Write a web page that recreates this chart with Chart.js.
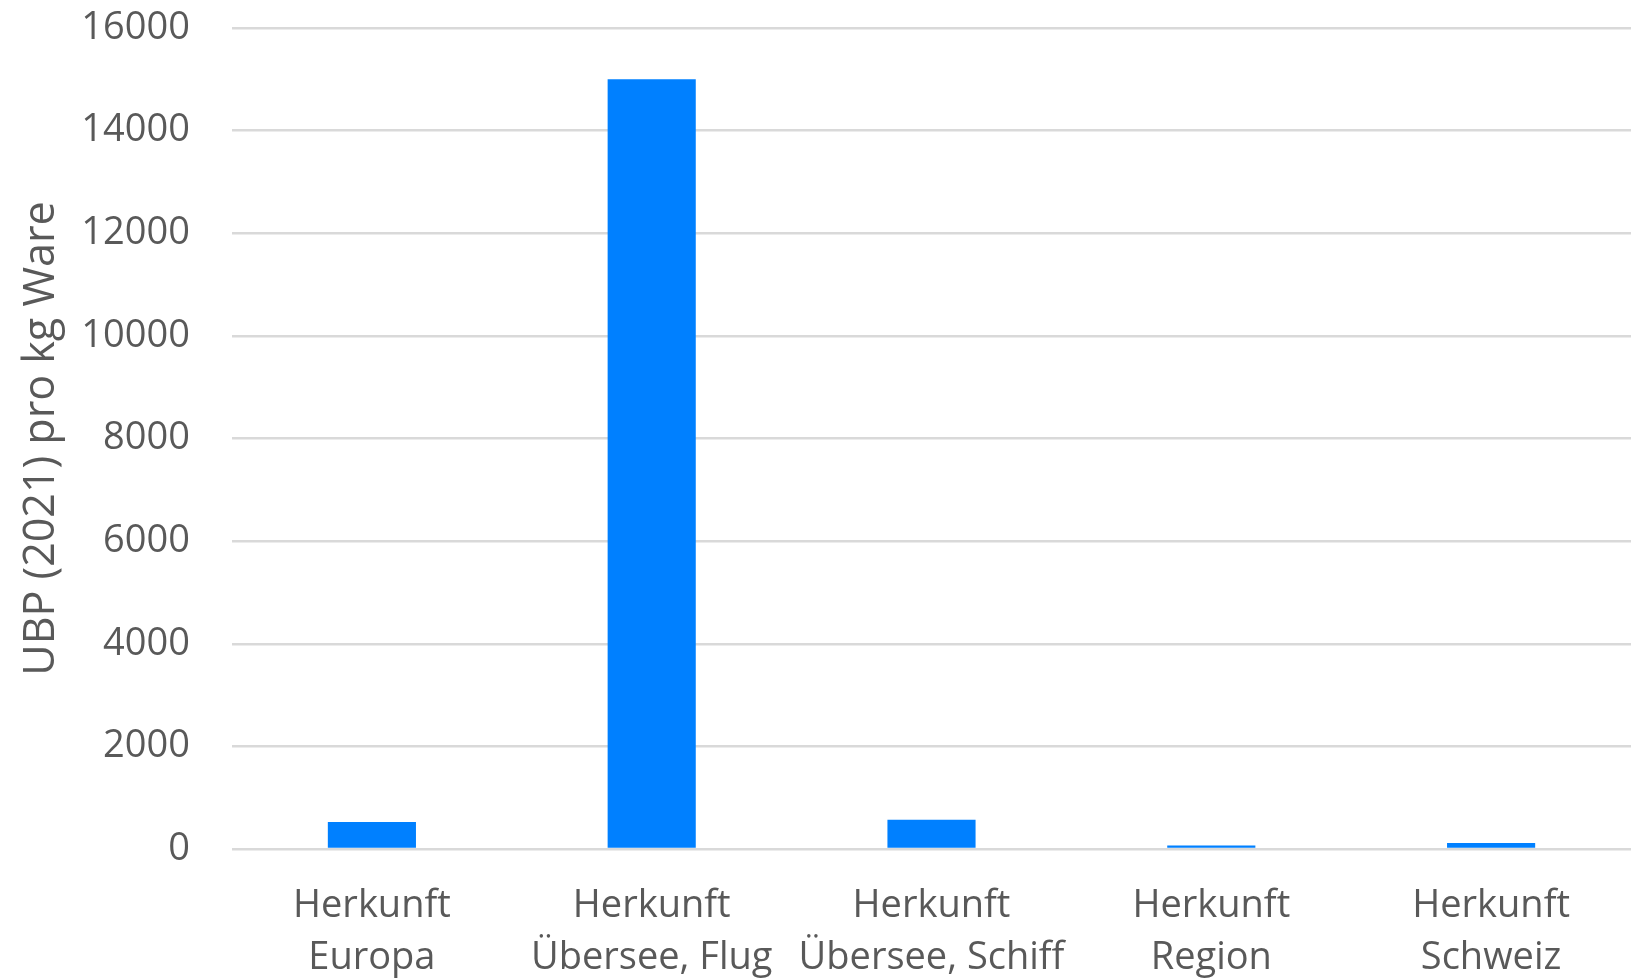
<!DOCTYPE html>
<html>
<head>
<meta charset="utf-8">
<title>UBP pro kg Ware nach Herkunft</title>
<script src="https://cdn.jsdelivr.net/npm/chart.js@4/dist/chart.umd.min.js"></script>
<style>
  html, body { margin: 0; padding: 0; background: #ffffff; }
  #wrap { width: 1631px; height: 979px; }
</style>
</head>
<body>
<div id="wrap"><canvas id="c" width="1631" height="979"></canvas></div>
<script>
// Categories (two-line labels) and values, UBP (2021) per kg of goods
const categories = [
  ["Herkunft", "Europa"],
  ["Herkunft", "Übersee, Flug"],
  ["Herkunft", "Übersee, Schiff"],
  ["Herkunft", "Region"],
  ["Herkunft", "Schweiz"]
];
const ubpValues = [525, 15000, 570, 70, 115];
const yTicks = [0, 2000, 4000, 6000, 8000, 10000, 12000, 14000, 16000];
const yTitle = "UBP (2021) pro kg Ware";

const textColor = "#595959";
const gridColor = "#d9d9d9";
const barColor = "#0080ff";
const fontFamily = "'Open Sans', 'Noto Sans', sans-serif";

new Chart(document.getElementById("c"), {
  type: "bar",
  data: {
    labels: categories,
    datasets: [{
      data: ubpValues,
      backgroundColor: barColor,
      borderWidth: 0,
      categoryPercentage: 1.0,
      barPercentage: 0.315
    }]
  },
  options: {
    responsive: false,
    animation: false,
    devicePixelRatio: 1,
    layout: { padding: { top: 28, right: 0, bottom: 0, left: 0 } },
    plugins: {
      legend: { display: false },
      tooltip: { enabled: false }
    },
    scales: {
      x: {
        grid: { display: false, drawTicks: false },
        border: { display: false },
        afterFit: (axis) => { axis.height = 130; },
        ticks: {
          color: textColor,
          font: { family: fontFamily, size: 38, lineHeight: 1.38 },
          padding: 31,
          maxRotation: 0,
          autoSkip: false
        }
      },
      y: {
        min: 0,
        max: 16000,
        afterBuildTicks: (axis) => {
          axis.ticks = yTicks.map(v => ({ value: v }));
        },
        afterFit: (axis) => { axis.width = 232; },
        grid: {
          color: gridColor,
          lineWidth: 2.5,
          drawTicks: true,
          tickLength: 42,
          tickColor: "rgba(0,0,0,0)"
        },
        border: { display: false },
        ticks: {
          color: textColor,
          font: { family: fontFamily, size: 38 },
          padding: 0,
          callback: (v) => String(v)
        },
        title: {
          display: true,
          text: yTitle,
          color: textColor,
          font: { family: fontFamily, size: 43 },
          padding: { top: 16, bottom: 0 }
        }
      }
    }
  }
});
</script>
</body>
</html>
